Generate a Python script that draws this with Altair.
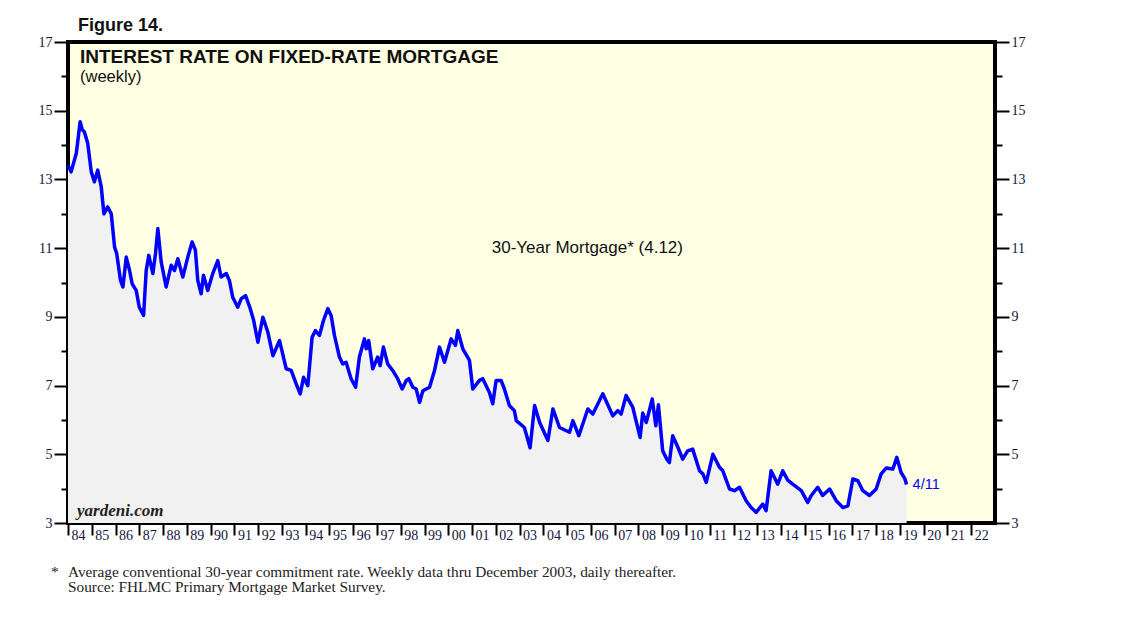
import altair as alt
import pandas as pd

years = [
    1984.00, 1984.13, 1984.35, 1984.51, 1984.60, 1984.69, 1984.83, 1984.98,
    1985.11, 1985.25, 1985.40, 1985.51, 1985.67, 1985.82, 1985.96,
    1986.05, 1986.21, 1986.31, 1986.45, 1986.59, 1986.70, 1986.87,
    1987.00, 1987.18, 1987.29, 1987.40, 1987.57, 1987.68, 1987.78, 1987.92,
    1988.13, 1988.34, 1988.48, 1988.62, 1988.83,
    1989.04, 1989.22, 1989.36, 1989.46, 1989.60, 1989.70, 1989.88,
    1990.09, 1990.30, 1990.44, 1990.66, 1990.79, 1990.93,
    1991.14, 1991.29, 1991.47, 1991.64, 1991.81, 1991.99,
    1992.20, 1992.41, 1992.62, 1992.90,
    1993.18, 1993.39, 1993.60, 1993.77, 1993.91,
    1994.09, 1994.27, 1994.41, 1994.58, 1994.75, 1994.93,
    1995.07, 1995.21, 1995.42, 1995.56, 1995.70, 1995.91,
    1996.10, 1996.26, 1996.47, 1996.55, 1996.65, 1996.82,
    1997.03, 1997.13, 1997.27, 1997.45, 1997.66, 1997.87,
    1998.06, 1998.23, 1998.34, 1998.51, 1998.65, 1998.79, 1998.93,
    1999.21, 1999.42, 1999.63, 1999.84,
    2000.12, 2000.30, 2000.40, 2000.61, 2000.89,
    2001.03, 2001.31, 2001.45, 2001.73, 2001.87,
    2002.01, 2002.22, 2002.36, 2002.57, 2002.78, 2002.86,
    2003.20, 2003.44, 2003.63, 2003.84,
    2004.19, 2004.40, 2004.68,
    2005.10, 2005.24, 2005.49, 2005.87,
    2006.08, 2006.50, 2006.92,
    2007.13, 2007.27, 2007.48, 2007.76,
    2008.07, 2008.18, 2008.33, 2008.58, 2008.73, 2008.84,
    2009.02, 2009.20, 2009.30, 2009.44, 2009.65, 2009.86,
    2010.07, 2010.28, 2010.57, 2010.71, 2010.85,
    2011.13, 2011.41, 2011.55, 2011.83,
    2012.04, 2012.25, 2012.53, 2012.74, 2012.95,
    2013.23, 2013.37, 2013.58, 2013.86,
    2014.07, 2014.28, 2014.49, 2014.85,
    2015.12, 2015.27, 2015.54, 2015.75,
    2016.04, 2016.32, 2016.60, 2016.81,
    2017.02, 2017.23, 2017.44, 2017.72,
    2018.00, 2018.21, 2018.42, 2018.70, 2018.87,
    2019.05, 2019.20, 2019.28,
]

rates = [
    13.41, 13.22, 13.76, 14.68, 14.45, 14.38, 14.05, 13.22,
    12.93, 13.27, 12.78, 12.00, 12.20, 12.00, 11.03,
    10.84, 10.06, 9.87, 10.74, 10.35, 9.96, 9.77,
    9.28, 9.04, 10.35, 10.79, 10.26, 10.84, 11.57, 10.60,
    9.87, 10.50, 10.35, 10.69, 10.16,
    10.74, 11.18, 10.94, 10.06, 9.67, 10.21, 9.77,
    10.26, 10.64, 10.16, 10.26, 10.06, 9.57,
    9.28, 9.53, 9.62, 9.30, 8.90, 8.26,
    8.99, 8.55, 7.87, 8.31,
    7.49, 7.44, 7.05, 6.76, 7.24,
    7.00, 8.41, 8.60, 8.46, 8.90, 9.24,
    9.04, 8.46, 7.83, 7.63, 7.68, 7.20,
    6.95, 7.83, 8.36, 8.07, 8.31, 7.49,
    7.83, 7.58, 8.12, 7.63, 7.44, 7.20,
    6.90, 7.15, 7.20, 6.95, 6.90, 6.51, 6.85,
    6.95, 7.44, 8.12, 7.68,
    8.36, 8.17, 8.60, 8.07, 7.73,
    6.90, 7.15, 7.20, 6.80, 6.47,
    7.15, 7.15, 6.90, 6.42, 6.27, 5.98,
    5.78, 5.19, 6.42, 5.93,
    5.40, 6.32, 5.78,
    5.64, 5.98, 5.54, 6.32,
    6.17, 6.76, 6.12,
    6.27, 6.17, 6.71, 6.37,
    5.49, 6.20, 5.93, 6.61, 5.83, 6.44,
    5.10, 4.85, 4.76, 5.54, 5.22, 4.86,
    5.10, 5.15, 4.52, 4.43, 4.18,
    5.00, 4.62, 4.52, 3.99,
    3.94, 4.04, 3.65, 3.45, 3.31,
    3.55, 3.36, 4.52, 4.13,
    4.52, 4.25, 4.13, 3.94,
    3.60, 3.80, 4.04, 3.80,
    3.99, 3.65, 3.45, 3.50,
    4.28, 4.23, 3.94, 3.80,
    3.99, 4.43, 4.60, 4.57, 4.91,
    4.47, 4.30, 4.12,
]

tick_years = list(range(1984, 2023))
y_ticks = list(range(3, 18))

df = pd.DataFrame({"year": years, "rate": rates})

W, H = 927, 481
SERIF = "Liberation Serif"
SANS = "Liberation Sans"
LABEL_COLOR = "#14143c"

x_scale = alt.Scale(domain=[1984, 2023], nice=False, zero=False)
y_scale = alt.Scale(domain=[3, 17], nice=False, zero=False, clamp=True)

x_axis = alt.Axis(
    values=tick_years, title=None, grid=False, domain=False,
    tickSize=12, tickWidth=2, tickColor="black",
    labelExpr="(datum.value % 100 < 10 ? '0' : '') + (datum.value % 100)",
    labelOffset=10, labelPadding=-7, labelFont=SERIF, labelFontSize=14,
    labelColor=LABEL_COLOR, labelFlush=False, labelOverlap=False,
)

def y_axis(orient):
    return alt.Axis(
        orient=orient, values=y_ticks, title=None, grid=False, domain=False,
        tickSize={"condition": {"test": "datum.value % 2 == 1", "value": 14}, "value": 7},
        tickWidth=2, tickColor="black",
        labelExpr="datum.value % 2 == 1 ? datum.value : ''",
        labelPadding=2, labelFont=SERIF, labelFontSize=14,
        labelColor=LABEL_COLOR, labelOverlap=False, labelFlush=False,
    )

area = alt.Chart(df).mark_area(color="#F1F1F1", opacity=1).encode(
    x=alt.X("year:Q", scale=x_scale, axis=x_axis),
    y=alt.Y("rate:Q", scale=y_scale, axis=y_axis("left")),
    y2=alt.datum(3),
)

line = alt.Chart(df).mark_line(color="#0000FF", strokeWidth=3.5, strokeJoin="round").encode(
    x=alt.X("year:Q", scale=x_scale, axis=x_axis),
    y=alt.Y("rate:Q", scale=y_scale, axis=y_axis("right")),
)

series_label = alt.Chart(pd.DataFrame({"year": [2005.85], "rate": [11.0], "t": ["30-Year Mortgage* (4.12)"]})).mark_text(
    font=SANS, fontSize=17, color="#111111", align="center", baseline="middle"
).encode(
    x=alt.X("year:Q", scale=x_scale, axis=x_axis),
    y=alt.Y("rate:Q", scale=y_scale, axis=None),
    text="t:N",
)

end_label = alt.Chart(pd.DataFrame({"year": [years[-1]], "rate": [rates[-1]], "t": ["4/11"]})).mark_text(
    font=SANS, fontSize=14.5, color="#0000FF", align="left", baseline="middle", dx=6
).encode(
    x=alt.X("year:Q", scale=x_scale, axis=x_axis),
    y=alt.Y("rate:Q", scale=y_scale, axis=None),
    text="t:N",
)

def ptext(txt, x, y, **kw):
    return alt.Chart(pd.DataFrame({"t": [txt]})).mark_text(align="left", baseline="alphabetic", **kw).encode(
        x=alt.value(x), y=alt.value(y), text="t:N"
    )

fig = ptext("Figure 14.", 10, -11, font=SANS, fontSize=18, fontWeight="bold", color="#111111")
title = ptext("INTEREST RATE ON FIXED-RATE MORTGAGE", 12, 21, font=SANS, fontSize=19, fontWeight="bold", color="#111111")
sub = ptext("(weekly)", 12, 40, font=SANS, fontSize=16.5, color="#111111")
brand = ptext("yardeni.com", 9, 474, font=SERIF, fontSize=17, fontWeight="bold", fontStyle="italic", color="#222222")
star = ptext("*", -17, 535, font=SERIF, fontSize=15.3, color="#222222")
foot1 = ptext("Average conventional 30-year commitment rate. Weekly data thru December 2003, daily thereafter.", 0, 535, font=SERIF, fontSize=15.3, color="#222222")
foot2 = ptext("Source: FHLMC Primary Mortgage Market Survey.", 0, 550, font=SERIF, fontSize=15.3, color="#222222")

chart = alt.layer(
    area, line, series_label, end_label, fig, title, sub, brand, star, foot1, foot2
).resolve_axis(y="independent").resolve_scale(y="shared").properties(
    width=W, height=H,
    autosize=alt.AutoSizeParams(type="none"),
    padding={"left": 60, "top": 34, "right": 135, "bottom": 90},
    background="white",
).configure_view(
    stroke="black", strokeWidth=4, fill="#FFFFE3"
)

chart.save("out.html", embed_options={"renderer": "svg", "actions": False})
